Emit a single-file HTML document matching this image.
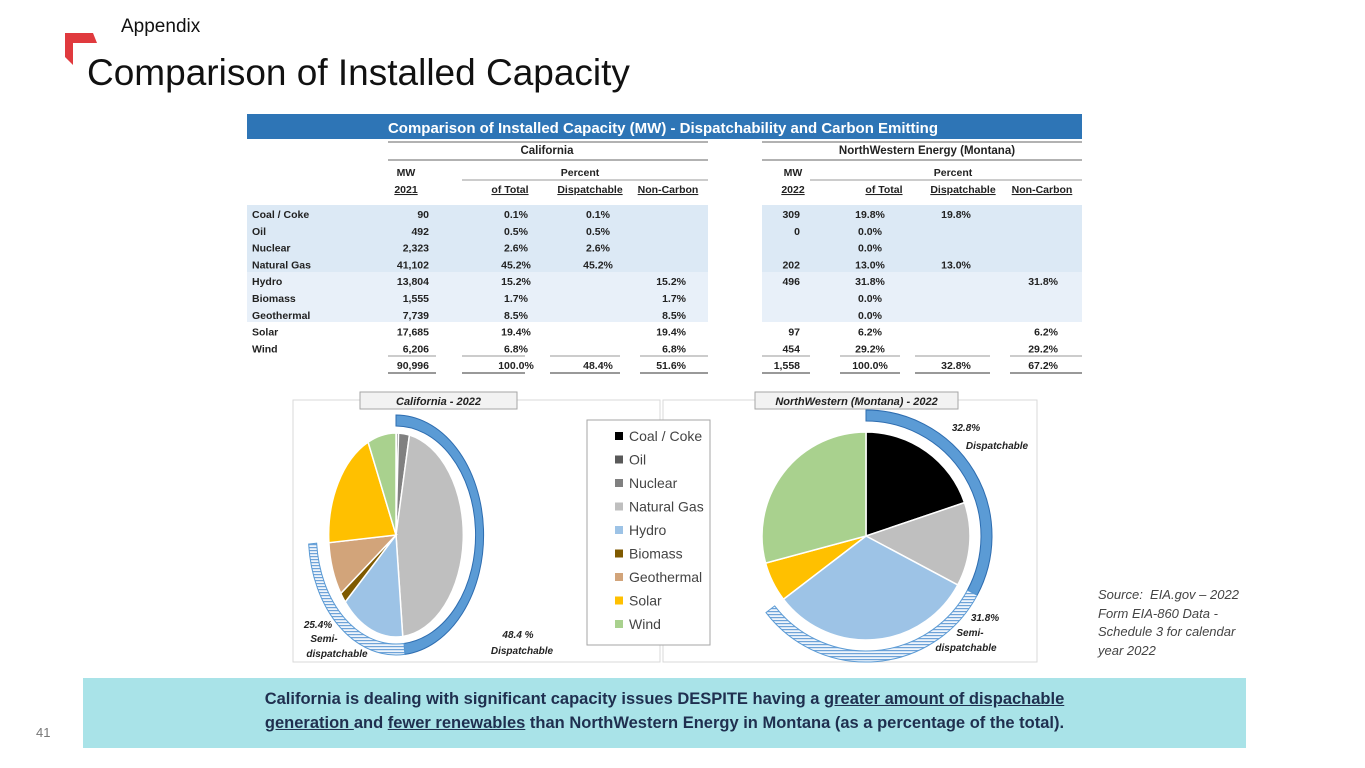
<!DOCTYPE html>
<html><head><meta charset="utf-8">
<style>
html,body{margin:0;padding:0;background:#fff;}
body{width:1365px;height:768px;position:relative;overflow:hidden;font-family:"Liberation Sans",sans-serif;}
.abs{position:absolute;}
</style></head>
<body>
<svg class="abs" style="left:0;top:0" width="1365" height="768">
  <polygon points="65,33 93,33 97,43 73,43 73,65 65,57" fill="#e03a3e"/>
</svg>
<div class="abs" style="left:121px;top:16px;font-size:19px;color:#111;">Appendix</div>
<div class="abs" style="left:87px;top:52px;font-size:37px;color:#111;">Comparison of Installed Capacity</div>

<svg id="main" class="abs" style="left:0;top:0" width="1365" height="768" font-family="Liberation Sans, sans-serif">
  <defs>
    <pattern id="hatch" width="4" height="3" patternUnits="userSpaceOnUse">
      <rect width="4" height="3" fill="#eef4fb"/>
      <rect width="4" height="1.2" fill="#6fa3d8"/>
    </pattern>
  </defs>
  <g id="tbl"></g>
  <g id="pies"></g>
</svg>

<div class="abs" style="left:1098px;top:586px;font-size:13px;line-height:18.5px;color:#444;font-style:italic;">Source:&nbsp; EIA.gov – 2022<br>Form EIA-860 Data -<br>Schedule 3 for calendar<br>year 2022</div>

<div class="abs" style="left:83px;top:678px;width:1163px;height:70px;background:#a9e3e8;"></div>
<div class="abs" style="left:83px;top:687px;width:1163px;text-align:center;font-size:16.5px;font-weight:bold;line-height:24px;color:#1f2f4f;">California is dealing with significant capacity issues DESPITE having a <u>greater amount of dispachable</u><br><u>generation </u>and <u>fewer renewables</u> than NorthWestern Energy in Montana (as a percentage of the total).</div>
<div class="abs" style="left:36px;top:725px;font-size:13px;color:#777;">41</div>

<script>
const categories=["Coal / Coke","Oil","Nuclear","Natural Gas","Hydro","Biomass","Geothermal","Solar","Wind"];
const caMW=["90","492","2,323","41,102","13,804","1,555","7,739","17,685","6,206"];
const caPct=[0.1,0.5,2.6,45.2,15.2,1.7,8.5,19.4,6.8];
const caDisp=["0.1%","0.5%","2.6%","45.2%","","","","",""];
const caNon=["","","","","15.2%","1.7%","8.5%","19.4%","6.8%"];
const mtMW=["309","0","","202","496","","","97","454"];
const mtPct=[19.8,0.0,0.0,13.0,31.8,0.0,0.0,6.2,29.2];
const mtDisp=["19.8%","","","13.0%","","","","",""];
const mtNon=["","","","","31.8%","","","6.2%","29.2%"];
const caTotals=["90,996","100.0%","48.4%","51.6%"];
const mtTotals=["1,558","100.0%","32.8%","67.2%"];
const caDispatchable=48.4, caSemi=25.4, mtDispatchable=32.8, mtSemi=31.8;
const colors=["#000000","#595959","#808080","#bfbfbf","#9dc3e6","#7f5a00","#d2a47a","#ffc000","#a9d18e"];

const NS="http://www.w3.org/2000/svg";
function mk(tag,attrs,parent,txt){const e=document.createElementNS(NS,tag);for(const k in attrs)e.setAttribute(k,attrs[k]);if(txt!==undefined)e.textContent=txt;parent.appendChild(e);return e;}
const tbl=document.getElementById('tbl');
const pies=document.getElementById('pies');

let e;
e=mk('rect',{x:247,y:114,width:835,height:25,fill:"#2e75b6"},tbl);


e=mk('text',{x:663,y:133,'text-anchor':'middle','font-size':15,'font-weight':'bold',fill:'#fff'},tbl,"Comparison of Installed Capacity (MW)  - Dispatchability and Carbon Emitting");


const rowY0=214, rowH=16.8;
[[247,708],[762,1082]].forEach(([x1,x2])=>{
  e=mk('rect',{x:x1,y:205,width:x2-x1,height:67,fill:"#dce9f5"},tbl);
  
  
  e=mk('rect',{x:x1,y:272,width:x2-x1,height:50,fill:"#e8f0f9"},tbl);
  
  
});
function hl(x1,x2,y,w){mk('line',{x1:x1,x2:x2,y1:y,y2:y,stroke:'#999','stroke-width':w||1},tbl);}
hl(388,708,142,1.5);hl(388,708,160,1.5);hl(462,708,180,1);
hl(762,1082,142,1.5);hl(762,1082,160,1.5);hl(810,1082,180,1);
const hdr=[[547,154,"California"],[927,154,"NorthWestern Energy (Montana)"],[406,176,"MW"],[580,176,"Percent"],[793,176,"MW"],[953,176,"Percent"],
[406,193,"2021"],[510,193,"of Total"],[590,193,"Dispatchable"],[668,193,"Non-Carbon"],[793,193,"2022"],[884,193,"of Total"],[963,193,"Dispatchable"],[1042,193,"Non-Carbon"]];
hdr.forEach(h=>{e=mk('text',{x:h[0],y:h[1],'text-anchor':'middle','font-size':h[1]<160?11.5:10.5,'font-weight':'bold',fill:'#222','text-decoration':h[1]>190?'underline':'none'},tbl,h[2]);

});
function cell(x,y,t,anchor){const c=mk('text',{x:x,y:y,'text-anchor':anchor,'font-size':10.5,'font-weight':'bold',fill:'#222'},tbl,t);return c;}
categories.forEach((c,i)=>{
  const y=rowY0+i*rowH+4;
  e=cell(252,y,c,'start');
  
  
  cell(429,y,caMW[i],'end');
  cell(516,y,caPct[i].toFixed(1)+"%",'middle');
  cell(598,y,caDisp[i],'middle');
  cell(686,y,caNon[i],'end');
  cell(800,y,mtMW[i],'end');
  cell(870,y,mtPct[i].toFixed(1)+"%",'middle');
  cell(956,y,mtDisp[i],'middle');
  cell(1058,y,mtNon[i],'end');
});
const ty=rowY0+9*rowH+4;
cell(429,ty,caTotals[0],'end');cell(516,ty,caTotals[1],'middle');cell(598,ty,caTotals[2],'middle');cell(686,ty,caTotals[3],'end');
cell(800,ty,mtTotals[0],'end');cell(870,ty,mtTotals[1],'middle');cell(956,ty,mtTotals[2],'middle');cell(1058,ty,mtTotals[3],'end');
[[388,436],[462,525],[550,620],[640,708],[762,810],[840,900],[915,990],[1010,1082]].forEach(([a,b])=>{hl(a,b,356,1);hl(a,b,373,2);});

[[293,400,367,262],[663,400,374,262]].forEach(p=>{e=mk('rect',{x:p[0],y:p[1],width:p[2],height:p[3],fill:'none',stroke:'#d9d9d9'},pies);

});
[[360,392,157,"California - 2022"],[755,392,203,"NorthWestern (Montana) - 2022"]].forEach(p=>{
  e=mk('rect',{x:p[0],y:p[1],width:p[2],height:17,fill:'#f2f2f2',stroke:'#a6a6a6'},pies);
  
  
  e=mk('text',{x:p[0]+p[2]/2,y:p[1]+13,'text-anchor':'middle','font-size':11,'font-weight':'bold','font-style':'italic',fill:'#222'},pies,p[3]);
  
  
});

function pt(r,a){return [r*Math.sin(a),-r*Math.cos(a)];}
function wedge(r,a0,a1){const [x0,y0]=pt(r,a0),[x1,y1]=pt(r,a1);const lg=(a1-a0)>Math.PI?1:0;return `M0,0 L${x0},${y0} A${r},${r} 0 ${lg} 1 ${x1},${y1} Z`;}
function arcband(r0,r1,a0,a1){const lg=(a1-a0)>Math.PI?1:0;const [a,b]=pt(r1,a0),[c,d]=pt(r1,a1),[f,g]=pt(r0,a1),[h,k]=pt(r0,a0);
return `M${a},${b} A${r1},${r1} 0 ${lg} 1 ${c},${d} L${f},${g} A${r0},${r0} 0 ${lg} 0 ${h},${k} Z`;}
function drawPie(cx,cy,sx,sxRing,r,vals,disp,semi,rin,rout,name){
  const g=mk('g',{transform:`translate(${cx},${cy}) scale(${sx},1)`},pies);
  
  
  const tot=vals.reduce((a,b)=>a+b,0);let a=0;
  vals.forEach((v,i)=>{const a1=a+v/tot*2*Math.PI;if(v>0){const s=mk('path',{d:wedge(r,a,a1),fill:colors[i],stroke:'#fff','stroke-width':1.5,'vector-effect':'non-scaling-stroke'},g);
    
    }a=a1;});
  const rg=mk('g',{transform:`translate(${cx},${cy}) scale(${sxRing},1)`},pies);
  
  
  const d1=disp/100*2*Math.PI, s1=(disp+semi)/100*2*Math.PI;
  const ring=mk('path',{d:arcband(rin,rout,0,d1),fill:'#5b9bd5',stroke:'#2e6db0','stroke-width':1,'vector-effect':'non-scaling-stroke'},rg);
  
  
  const h=mk('path',{d:arcband(rin,rout,d1,s1),fill:'url(#hatch)',stroke:'#5b9bd5','stroke-width':1,'vector-effect':'non-scaling-stroke'},rg);
  
  
}
drawPie(396,535,0.66,0.73,102,caPct,caDispatchable,caSemi,109,120,'california-pie');
drawPie(866,536,1,1,104,mtPct,mtDispatchable,mtSemi,115,126,'montana-pie');

function lbl(x,y,t,anchor){const l=mk('text',{x:x,y:y,'text-anchor':anchor||'start','font-size':10,'font-weight':'bold','font-style':'italic',fill:'#222'},pies,t);

}
lbl(518,638,caDispatchable.toFixed(1)+" %",'middle');lbl(522,654,"Dispatchable",'middle');
lbl(318,628,caSemi.toFixed(1)+"%",'middle');lbl(324,642,"Semi-",'middle');lbl(337,657,"dispatchable",'middle');
lbl(966,431,mtDispatchable.toFixed(1)+"%",'middle');lbl(997,449,"Dispatchable",'middle');
lbl(985,621,mtSemi.toFixed(1)+"%",'middle');lbl(970,636,"Semi-",'middle');lbl(966,651,"dispatchable",'middle');

e=mk('rect',{x:587,y:420,width:123,height:225,fill:'#fff',stroke:'#a6a6a6'},pies);


categories.forEach((c,i)=>{const y=437+i*23.5;
  const sw=mk('rect',{x:615,y:y-5,width:8,height:8,fill:colors[i]},pies);
  
  
  const t=mk('text',{x:629,y:y+4,'font-size':14,fill:'#444'},pies,c);
  
  
});
</script>
</body></html>
